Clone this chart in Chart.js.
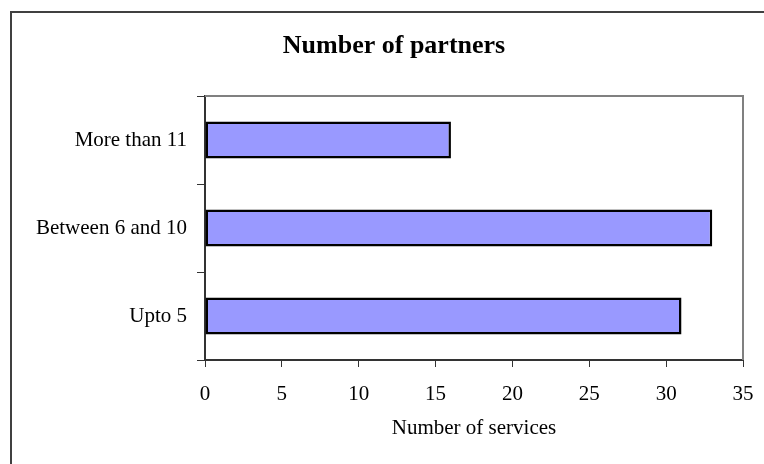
<!DOCTYPE html>
<html>
<head>
<meta charset="utf-8">
<title>Number of partners</title>
<script src="https://cdn.jsdelivr.net/npm/chart.js@4/dist/chart.umd.min.js"></script>
<style>
    html, body { margin: 0; padding: 0; background: #fff; }
    canvas { display: block; }
</style>
</head>
<body>
<canvas id="partnersChart" width="764" height="464"></canvas>
<script>
const categories = ['More than 11', 'Between 6 and 10', 'Upto 5'];
const services = [16, 33, 31];
const xTicks = [0, 5, 10, 15, 20, 25, 30, 35];
const chartTitle = 'Number of partners';

const serif = "'Liberation Serif', 'Times New Roman', serif";

// page frame, heading, and the grey edge of the plot area
const framePlugin = {
    id: 'frame',
    beforeDraw(chart) {
        const ctx = chart.ctx;
        ctx.save();
        ctx.strokeStyle = '#404040';
        ctx.lineWidth = 2;
        ctx.beginPath();
        ctx.moveTo(11, chart.height);
        ctx.lineTo(11, 12);
        ctx.lineTo(chart.width, 12);
        ctx.stroke();

        ctx.fillStyle = '#000';
        ctx.font = `bold 26px ${serif}`;
        ctx.textAlign = 'center';
        ctx.textBaseline = 'alphabetic';
        ctx.fillText(chartTitle, 394, 53);
        ctx.restore();
    },
    afterDatasetsDraw(chart) {
        const { ctx, chartArea } = chart;
        ctx.save();
        ctx.strokeStyle = '#808080';
        ctx.lineWidth = 2;
        ctx.beginPath();
        ctx.moveTo(chartArea.left, chartArea.top);
        ctx.lineTo(chartArea.right, chartArea.top);
        ctx.lineTo(chartArea.right, chartArea.bottom);
        ctx.stroke();
        ctx.restore();
    },
};

new Chart(document.getElementById('partnersChart'), {
    type: 'bar',
    data: {
        labels: categories,
        datasets: [
            {
                label: 'Number of services',
                data: services,
                backgroundColor: '#9999FF',
                borderColor: '#000',
                borderWidth: 2.5,
                borderSkipped: false,
                barPercentage: 0.42,
                categoryPercentage: 1,
            },
        ],
    },
    options: {
        indexAxis: 'y',
        responsive: false,
        animation: false,
        layout: {
            padding: { left: 0, right: 21, top: 96, bottom: 0 },
        },
        plugins: {
            legend: { display: false },
            tooltip: { enabled: false },
            title: { display: false },
        },
        scales: {
            x: {
                type: 'linear',
                min: 0,
                max: 35,
                afterBuildTicks(scale) {
                    scale.ticks = xTicks.map((value) => ({ value }));
                },
                afterFit(scale) {
                    scale.height = 104;
                    scale.paddingLeft = 0;
                    scale.paddingRight = 0;
                },
                border: { display: true, color: '#333', width: 2 },
                grid: {
                    display: true,
                    drawOnChartArea: false,
                    drawTicks: true,
                    tickLength: 7,
                    color: '#333',
                    lineWidth: 1,
                },
                ticks: {
                    color: '#000',
                    padding: 15,
                    font: { family: serif, size: 21 },
                },
                title: {
                    display: true,
                    text: 'Number of services',
                    color: '#000',
                    font: { family: serif, size: 21 },
                    padding: { top: 0, bottom: 23 },
                },
            },
            y: {
                afterFit(scale) {
                    scale.width = 205;
                },
                border: { display: true, color: '#333', width: 2 },
                grid: {
                    display: true,
                    offset: true,
                    drawOnChartArea: false,
                    drawTicks: true,
                    tickLength: 8,
                    color: '#333',
                    lineWidth: 1,
                },
                ticks: {
                    color: '#000',
                    padding: 10,
                    font: { family: serif, size: 21 },
                },
            },
        },
    },
    plugins: [framePlugin],
});
</script>
</body>
</html>
